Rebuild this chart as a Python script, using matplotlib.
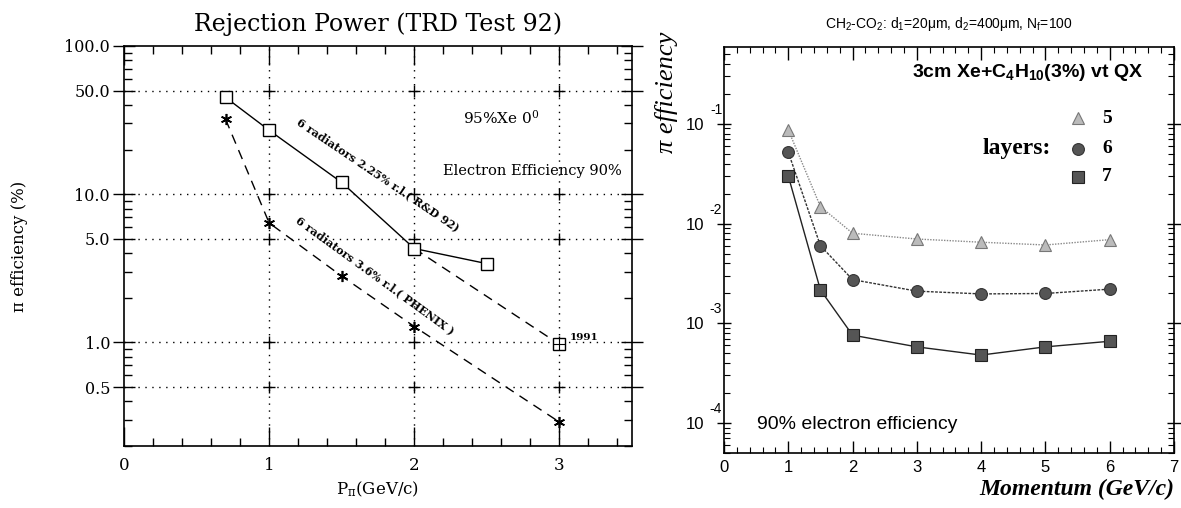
import matplotlib
matplotlib.use("Agg")
import matplotlib.pyplot as plt
import matplotlib.transforms as mtransforms
from matplotlib.ticker import LogLocator, MultipleLocator, NullFormatter

# ---------------- data: left panel ----------------
rd92_p = [0.7, 1.0, 1.5, 2.0, 2.5]
rd92_eff = [45.0, 27.0, 12.0, 4.3, 3.4]
test91_p = [2.0, 3.0]
test91_eff = [4.3, 0.97]
phenix_p = [0.7, 1.0, 1.5, 2.0, 3.0]
phenix_eff = [32.0, 6.4, 2.8, 1.28, 0.29]
left_yticks = [0.5, 1.0, 5.0, 10.0, 50.0, 100.0]
left_yticklabels = ["0.5", "1.0", "5.0", "10.0", "50.0", "100.0"]
left_xticks = [0, 1, 2, 3]
left_grid_y = [0.5, 1.0, 5.0, 10.0, 50.0]
left_grid_x = [1, 2, 3]

# ---------------- data: right panel ----------------
mom = [1, 1.5, 2, 3, 4, 5, 6]
layers5 = [0.087, 0.0148, 0.0080, 0.0070, 0.0065, 0.0061, 0.0069]
layers6 = [0.052, 0.0060, 0.00274, 0.0021, 0.00197, 0.00199, 0.0022]
layers7 = [0.030, 0.00216, 0.00076, 0.00058, 0.00048, 0.00058, 0.00066]
right_xticks = [0, 1, 2, 3, 4, 5, 6, 7]
right_yticks = [1e-4, 1e-3, 1e-2, 1e-1]
right_yexp = ["-4", "-3", "-2", "-1"]

W, H = 1181, 508
fig = plt.figure(figsize=(W / 100, H / 100), dpi=100)

SERIF = "DejaVu Serif"
SANS = "Liberation Sans"
TIMES = "Liberation Serif"

# ================= LEFT PANEL =================
axL = fig.add_axes([124 / W, 62 / H, 508 / W, 400 / H])
axL.set_yscale("log")
axL.set_xlim(0, 3.5)
axL.set_ylim(0.2, 100)

for gy in left_grid_y:
    axL.axhline(gy, color="black", lw=1.0, ls=(0, (1, 4)), zorder=1)
for gx in left_grid_x:
    axL.axvline(gx, color="black", lw=1.0, ls=(0, (1, 4)), zorder=1)
cx = [x for x in left_grid_x for _ in left_grid_y]
cy = [y for _ in left_grid_x for y in left_grid_y]
axL.plot(cx, cy, ls="none", marker="+", ms=9, mew=1.0, color="black", zorder=2)

axL.plot(rd92_p, rd92_eff, color="black", lw=1.0, marker="s", ms=8,
         mfc="white", mec="black", mew=1.0, zorder=4)
axL.plot(test91_p, test91_eff, color="black", lw=1.0, ls=(0, (7, 5)), zorder=3)
axL.plot(test91_p[-1:], test91_eff[-1:], ls="none", marker="s", ms=8,
         mfc="white", mec="black", mew=1.0, zorder=4)
axL.plot(test91_p[-1:], test91_eff[-1:], ls="none", marker="+", ms=8,
         mec="black", mew=0.8, zorder=5)
axL.plot(phenix_p, phenix_eff, color="black", lw=1.0, ls=(0, (7, 5)),
         marker=(6, 2, 0), ms=8, mew=1.2, mec="black", zorder=4)

axL.set_yticks(left_yticks)
axL.set_yticklabels(left_yticklabels)
axL.yaxis.set_minor_locator(LogLocator(base=10, subs=[2, 3, 4, 6, 7, 8, 9], numticks=20))
axL.yaxis.set_minor_formatter(NullFormatter())
axL.set_xticks(left_xticks)
axL.xaxis.set_minor_locator(MultipleLocator(0.2))
axL.tick_params(axis="y", which="major", direction="inout", length=16, width=1.0,
                left=True, right=True, labelsize=11.5, pad=2)
axL.tick_params(axis="y", which="minor", direction="in", length=6, width=1.0,
                left=True, right=True)
axL.tick_params(axis="x", which="major", direction="in", length=14, width=1.0,
                top=True, bottom=True, labelsize=12, pad=8)
axL.tick_params(axis="x", which="minor", direction="in", length=6, width=1.0,
                top=True, bottom=True)
for lab in axL.get_xticklabels() + axL.get_yticklabels():
    lab.set_family(SERIF)
for sp in axL.spines.values():
    sp.set_linewidth(1.2)

axL.set_title("Rejection Power (TRD Test 92)", family=SERIF, fontsize=17, pad=11)
axL.set_xlabel(r"$\mathregular{P_{\pi}}$(GeV/c)", family=SERIF, fontsize=12, labelpad=4)
axL.set_ylabel("\u03c0 efficiency (%)", family=SERIF, fontsize=12, labelpad=26)

axL.text(2.6, 33, r"95%Xe 0$\mathregular{^0}$", family=SERIF, fontsize=11,
         ha="center", va="center")
axL.text(2.2, 14.3, "Electron Efficiency 90%", family=SERIF, fontsize=10.5,
         ha="left", va="center")
axL.text(3.07, 1.0, "1991", family=SERIF, fontsize=7.5, ha="left", va="bottom",
         fontweight="bold")
axL.text(1.18, 29, "6 radiators 2.25% r.l.( R&D 92)", family=SERIF, fontsize=8,
         fontweight="bold", rotation=-34, rotation_mode="anchor", ha="left", va="bottom")
axL.text(1.17, 6.4, "6 radiators 3.6% r.l.( PHENIX )", family=SERIF, fontsize=8,
         fontweight="bold", rotation=-36, rotation_mode="anchor", ha="left", va="bottom")

# ================= RIGHT PANEL =================
axR = fig.add_axes([724 / W, 55 / H, 450 / W, 406 / H])
axR.set_yscale("log")
axR.set_xlim(0, 7)
axR.set_ylim(5e-5, 0.59)

axR.plot(mom, layers5, color="#888888", lw=1.0, ls=(0, (1, 1)), marker="^", ms=8,
         mfc="#bbbbbb", mec="#777777", mew=0.8, zorder=3)
axR.plot(mom, layers6, color="#333333", lw=1.0, ls=(0, (2, 1)), marker="o", ms=8.5,
         mfc="#555555", mec="#333333", mew=0.8, zorder=3)
axR.plot(mom, layers7, color="#222222", lw=1.0, marker="s", ms=8.5,
         mfc="#555555", mec="#222222", mew=0.8, zorder=3)

axR.set_xticks(right_xticks)
axR.xaxis.set_minor_locator(MultipleLocator(0.2))
axR.set_yticks(right_yticks)
axR.set_yticklabels(["10"] * len(right_yticks))
axR.yaxis.set_minor_locator(LogLocator(base=10, subs=[2, 3, 4, 5, 6, 7, 8, 9], numticks=20))
axR.yaxis.set_minor_formatter(NullFormatter())
axR.tick_params(axis="x", which="major", direction="in", length=9, width=1.0,
                top=True, bottom=True, labelsize=12, pad=5)
axR.tick_params(axis="x", which="minor", direction="in", length=4, width=0.8,
                top=True, bottom=True)
axR.tick_params(axis="y", which="major", direction="inout", length=10, width=1.0,
                left=True, right=True, labelsize=12, pad=9)
axR.tick_params(axis="y", which="minor", direction="in", length=4, width=0.8,
                left=True, right=True)
for lab in axR.get_xticklabels() + axR.get_yticklabels():
    lab.set_family(SANS)
for sp in axR.spines.values():
    sp.set_linewidth(1.2)

trans = mtransforms.blended_transform_factory(axR.transAxes, axR.transData)
for yv, ex in zip(right_yticks, right_yexp):
    axR.text(-0.004, yv * 1.38, ex, transform=trans, family=SANS, fontsize=10,
             ha="right", va="center")

axR.set_title("CH$\\mathregular{_2}$-CO$\\mathregular{_2}$: d$\\mathregular{_1}$=20\u03bcm, "
              "d$\\mathregular{_2}$=400\u03bcm, N$\\mathregular{_f}$=100",
              family=SANS, fontsize=10, pad=14)
axR.text(0.931, 0.938, r"3cm Xe+C$\mathregular{_4}$H$\mathregular{_{10}}$(3%) vt QX",
         transform=axR.transAxes, family=SANS, fontsize=14, fontweight="bold",
         ha="right", va="center")
axR.text(0.073, 0.069, "90% electron efficiency", transform=axR.transAxes, family=SANS,
         fontsize=14, ha="left", va="center")

# legend block
leg_y = [0.825, 0.749, 0.680]
leg_lab = ["5", "6", "7"]
axR.plot([0.787], [leg_y[0]], transform=axR.transAxes, marker="^", ms=8,
         mfc="#bbbbbb", mec="#777777", mew=0.8, ls="none")
axR.plot([0.787], [leg_y[1]], transform=axR.transAxes, marker="o", ms=8.5,
         mfc="#555555", mec="#333333", mew=0.8, ls="none")
axR.plot([0.787], [leg_y[2]], transform=axR.transAxes, marker="s", ms=8.5,
         mfc="#555555", mec="#222222", mew=0.8, ls="none")
for yy, tt in zip(leg_y, leg_lab):
    axR.text(0.84, yy, tt, transform=axR.transAxes, family=TIMES, fontsize=14,
             fontweight="bold", ha="left", va="center")
axR.text(0.727, leg_y[1], "layers:", transform=axR.transAxes, family=TIMES, fontsize=17,
         fontweight="bold", ha="right", va="center")

axR.set_xlabel("Momentum (GeV/c)", family=TIMES, fontsize=17, fontweight="bold",
               style="italic")
axR.xaxis.set_label_coords(1.0, -0.091)
axR.xaxis.label.set_horizontalalignment("right")
axR.xaxis.label.set_verticalalignment("center")
axR.set_ylabel("\u03c0 efficiency", family=TIMES, fontsize=19, style="italic")
axR.yaxis.set_label_coords(-0.127, 0.889)
axR.yaxis.label.set_verticalalignment("center")

fig.savefig("out.png", dpi=100)
